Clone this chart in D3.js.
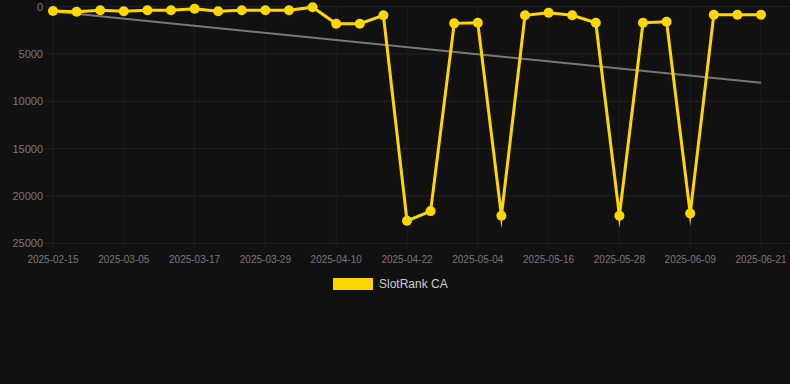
<!DOCTYPE html>
<html>
<head>
<meta charset="utf-8">
<script src="https://cdn.jsdelivr.net/npm/d3@7"></script>
<style>
  html, body { margin: 0; padding: 0; background: #111111; }
  svg { display: block; font-family: "Liberation Sans", Arial, sans-serif; }
</style>
</head>
<body>
<div id="chart"></div>
<script>
const dates = [
  "2025-02-15", "2025-02-21", "2025-02-27", "2025-03-05", "2025-03-09", "2025-03-13",
  "2025-03-17", "2025-03-21", "2025-03-25", "2025-03-29", "2025-04-02", "2025-04-06",
  "2025-04-10", "2025-04-14", "2025-04-18", "2025-04-22", "2025-04-26", "2025-04-30",
  "2025-05-04", "2025-05-08", "2025-05-12", "2025-05-16", "2025-05-20", "2025-05-24",
  "2025-05-28", "2025-06-01", "2025-06-05", "2025-06-09", "2025-06-13", "2025-06-17",
  "2025-06-21"
];
const rankCA = [
  450, 530, 380, 490, 380, 380, 210, 490, 380, 380, 380, 50,
  1800, 1800, 910, 22620, 21600, 1760, 1690, 22090, 910, 630,
  910, 1690, 22090, 1690, 1585, 21840, 845, 845, 845
];
const yTicks = [0, 5000, 10000, 15000, 20000, 25000];
const seriesName = "SlotRank CA";

const W = 790, H = 384;
const margin = { top: 6.7, left: 53, right: 29, bottom: 140.7 };

const svg = d3.select("#chart").append("svg")
  .attr("width", W).attr("height", H);

const x = d3.scalePoint()
  .domain(dates)
  .range([margin.left, W - margin.right]);

const y = d3.scaleLinear()
  .domain([0, 25000])
  .range([margin.top, H - margin.bottom]);

const tickDates = dates.filter((d, i) => i % 3 === 0);

// grid
svg.append("g")
  .selectAll("line")
  .data(tickDates)
  .join("line")
  .attr("x1", d => x(d)).attr("x2", d => x(d))
  .attr("y1", y(0)).attr("y2", y(25000) + 5)
  .attr("stroke", "#1c1c1c").attr("stroke-width", 1);

svg.append("g")
  .selectAll("line")
  .data(yTicks)
  .join("line")
  .attr("x1", 45).attr("x2", W)
  .attr("y1", d => y(d)).attr("y2", d => y(d))
  .attr("stroke", "#222222").attr("stroke-width", 1);

// y axis labels
svg.append("g")
  .selectAll("text")
  .data(yTicks)
  .join("text")
  .attr("x", 43)
  .attr("y", d => y(d))
  .attr("dy", "0.35em")
  .attr("text-anchor", "end")
  .attr("fill", "#777777")
  .style("font-size", "11px")
  .text(d => d);

// x axis labels
svg.append("g")
  .selectAll("text")
  .data(tickDates)
  .join("text")
  .attr("x", d => x(d))
  .attr("y", 259)
  .attr("dy", "0.35em")
  .attr("text-anchor", "middle")
  .attr("fill", "#777777")
  .style("font-size", "10px")
  .text(d => d);

// trend line (least squares over the series)
const n = rankCA.length;
const meanI = d3.mean(rankCA, (v, i) => i);
const meanV = d3.mean(rankCA);
const slope = d3.sum(rankCA, (v, i) => (i - meanI) * (v - meanV)) /
  d3.sum(rankCA, (v, i) => (i - meanI) * (i - meanI));
const trend = [0, n - 1].map(i => ({ d: dates[i], v: meanV + slope * (i - meanI) }));

svg.append("path")
  .datum(trend)
  .attr("fill", "none")
  .attr("stroke", "#777777")
  .attr("stroke-width", 2)
  .attr("d", d3.line().x(p => x(p.d)).y(p => y(p.v)));

// series line
const pts = dates.map((d, i) => ({ d, v: rankCA[i] }));
svg.append("path")
  .datum(pts)
  .attr("fill", "none")
  .attr("stroke", "#FFD700")
  .attr("stroke-width", 3)
  .attr("stroke-linejoin", "miter")
  .attr("stroke-miterlimit", 10)
  .attr("d", d3.line().x(p => x(p.d)).y(p => y(p.v)));

svg.append("g")
  .selectAll("circle")
  .data(pts)
  .join("circle")
  .attr("cx", p => x(p.d))
  .attr("cy", p => y(p.v))
  .attr("r", 5)
  .attr("fill", "#FFD700");

// legend
const legend = svg.append("g").attr("transform", "translate(333,278)");
legend.append("rect")
  .attr("width", 40).attr("height", 12)
  .attr("fill", "#FFD700");
legend.append("text")
  .attr("x", 46).attr("y", 6)
  .attr("dy", "0.35em")
  .attr("fill", "#cccccc")
  .style("font-size", "12px")
  .text(seriesName);
</script>
</body>
</html>
